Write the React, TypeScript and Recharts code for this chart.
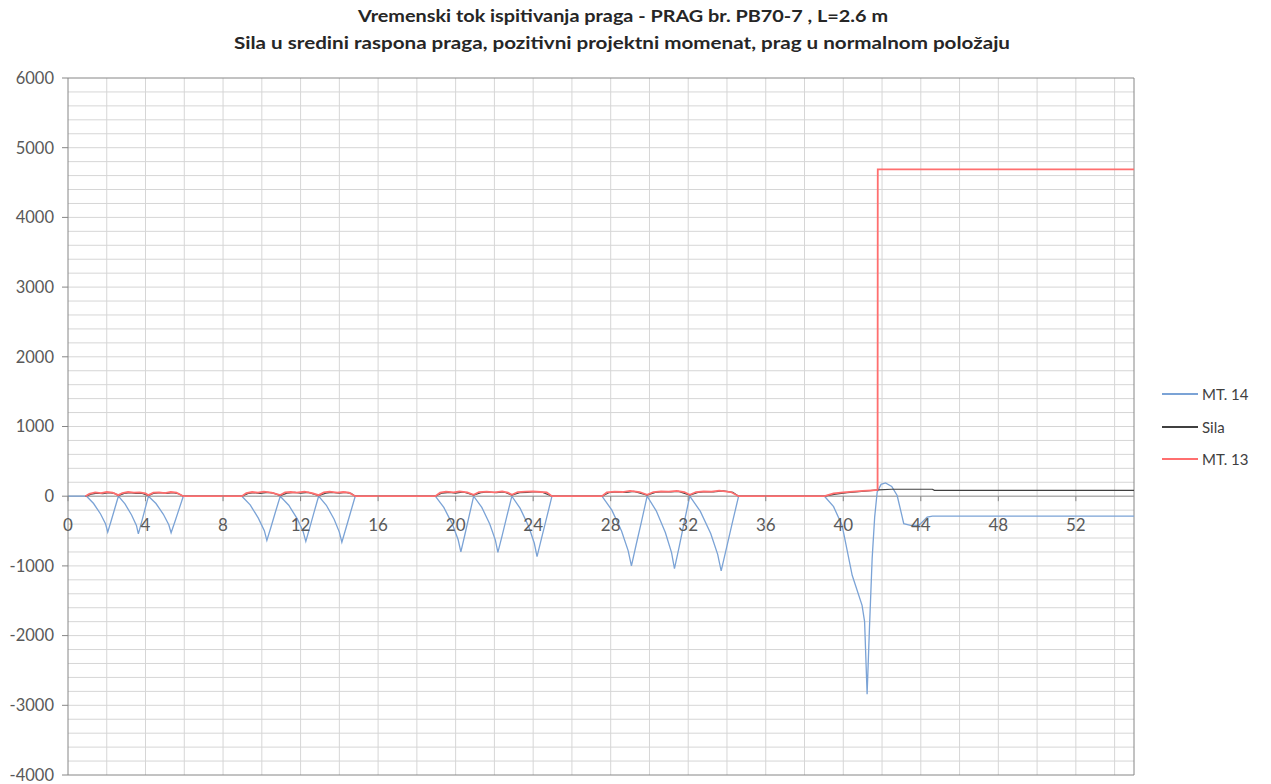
import React from "react";
import { LineChart, Line, XAxis, YAxis, ReferenceLine } from "recharts";

const TITLE_1 = "Vremenski tok ispitivanja praga - PRAG br. PB70-7 , L=2.6 m";
const TITLE_2 = "Sila u sredini raspona praga, pozitivni projektni momenat, prag u normalnom položaju";

const xTicks = [0, 4, 8, 12, 16, 20, 24, 28, 32, 36, 40, 44, 48, 52];
const yTicks = [-4000, -3000, -2000, -1000, 0, 1000, 2000, 3000, 4000, 5000, 6000];

// MT 14 - [time, value]
const mt14: number[][] = [
  [0, 0], [0.96, 0],
  [1.32, -105], [1.68, -255], [1.94, -400], [2.05, -515], [2.22, -360], [2.41, -180], [2.6, 0],
  [2.94, -110], [3.28, -270], [3.53, -420], [3.63, -540], [3.79, -380], [3.97, -190], [4.15, 0],
  [4.54, -105], [4.92, -260], [5.2, -410], [5.32, -525], [5.51, -370], [5.73, -185], [5.95, 0],
  [8.97, 0],
  [9.4, -125], [9.82, -315], [10.13, -495], [10.26, -633], [10.47, -445], [10.71, -220], [10.95, 0],
  [11.39, -130], [11.83, -325], [12.13, -505], [12.27, -648], [12.47, -455], [12.7, -225], [12.93, 0],
  [13.33, -130], [13.73, -330], [14.0, -515], [14.13, -660], [14.34, -460], [14.58, -230], [14.82, 0],
  [18.95, 0],
  [19.39, -160], [19.83, -400], [20.13, -625], [20.27, -800], [20.47, -560], [20.7, -280], [20.93, 0],
  [21.35, -160], [21.76, -400], [22.05, -630], [22.18, -805], [22.4, -565], [22.65, -280], [22.9, 0],
  [23.33, -175], [23.77, -435], [24.06, -675], [24.2, -867], [24.43, -605], [24.7, -305], [24.97, 0],
  [27.55, 0],
  [28.06, -200], [28.56, -500], [28.9, -780], [29.07, -1000], [29.31, -700], [29.6, -350], [29.88, 0],
  [30.35, -210], [30.82, -520], [31.14, -810], [31.29, -1040], [31.53, -730], [31.8, -365], [32.08, 0],
  [32.62, -215], [33.16, -535], [33.52, -835], [33.7, -1072], [33.97, -750], [34.28, -375], [34.6, 0],
  [39.03, 0], [39.5, -150], [39.94, -420], [40.46, -1135], [40.97, -1565], [41.1, -1800],
  [41.23, -2840], [41.35, -1900], [41.49, -895], [41.62, -300], [41.75, 60], [41.95, 170],
  [42.18, 190], [42.5, 140], [42.78, 10], [43.0, -250], [43.12, -395], [43.47, -420],
  [43.9, -420], [44.33, -300], [44.6, -285], [55, -285],
];

// Sila
const sila: number[][] = [
  [0.9, 0], [1.2, 30], [1.5, 45], [1.8, 35], [2.1, 50], [2.4, 40], [2.6, 10],
  [2.9, 40], [3.2, 50], [3.5, 40], [3.8, 45], [4.15, 10],
  [4.4, 40], [4.8, 50], [5.1, 40], [5.4, 50], [5.7, 35], [5.95, 0],
  [8.97, 0], [9.3, 40], [9.6, 50], [9.9, 40], [10.3, 55], [10.6, 45], [10.95, 10],
  [11.3, 45], [11.7, 55], [12.0, 45], [12.4, 55], [12.93, 10],
  [13.3, 45], [13.6, 55], [14.0, 45], [14.3, 55], [14.6, 40], [14.82, 0],
  [18.95, 0], [19.3, 45], [19.7, 55], [20.0, 45], [20.4, 60], [20.93, 15],
  [21.3, 50], [21.7, 60], [22.1, 50], [22.5, 60], [22.9, 15],
  [23.3, 50], [23.7, 55], [24.1, 65], [24.5, 55], [24.97, 0],
  [27.55, 0], [27.9, 50], [28.3, 60], [28.8, 55], [29.2, 70], [29.88, 15],
  [30.3, 55], [30.7, 65], [31.1, 60], [31.5, 70], [32.08, 15],
  [32.5, 55], [32.9, 65], [33.3, 60], [33.8, 75], [34.3, 55], [34.6, 0],
  [39.03, 0], [39.6, 30], [40.2, 50], [40.8, 65], [41.4, 80], [41.8, 90],
  [42.5, 100], [44.6, 100], [44.7, 85], [55, 85],
];

// MT 13
const mt13: number[][] = [
  [0.9, 0], [1.1, 35], [1.4, 55], [1.7, 45], [2.0, 60], [2.3, 50], [2.6, 15],
  [2.8, 45], [3.1, 60], [3.4, 50], [3.7, 55], [4.0, 40], [4.15, 15],
  [4.4, 50], [4.7, 55], [5.0, 45], [5.3, 60], [5.6, 50], [5.95, 0],
  [8.97, 0], [9.2, 45], [9.5, 60], [9.8, 50], [10.1, 65], [10.5, 50], [10.95, 15],
  [11.2, 55], [11.5, 60], [11.8, 50], [12.2, 65], [12.6, 45], [12.93, 15],
  [13.2, 55], [13.5, 65], [13.9, 50], [14.2, 60], [14.5, 50], [14.82, 0],
  [18.95, 0], [19.2, 50], [19.5, 65], [19.9, 55], [20.2, 70], [20.6, 55], [20.93, 20],
  [21.2, 60], [21.6, 65], [22.0, 55], [22.4, 70], [22.7, 50], [22.9, 20],
  [23.2, 60], [23.6, 65], [24.0, 70], [24.4, 60], [24.7, 55], [24.97, 0],
  [27.55, 0], [27.8, 55], [28.2, 65], [28.6, 60], [29.0, 75], [29.5, 60], [29.88, 20],
  [30.2, 60], [30.6, 70], [31.0, 65], [31.4, 75], [31.8, 60], [32.08, 20],
  [32.4, 60], [32.8, 70], [33.2, 65], [33.6, 80], [34.2, 60], [34.6, 0],
  [39.03, 0], [39.5, 40], [40.0, 55], [40.5, 65], [41.0, 75], [41.5, 85], [41.77, 90],
  [41.78, 4690], [55, 4690],
];

const toRows = (pts: number[][]) => pts.map(([t, v]) => ({ t, v }));

const series = [
  { name: "MT. 14", color: "#7ba3d6", width: 1.3, data: toRows(mt14) },
  { name: "Sila", color: "#404040", width: 1.2, data: toRows(sila) },
  { name: "MT. 13", color: "#ff6f6f", width: 1.8, data: toRows(mt13) },
];

// minor gridlines
const gridX: number[] = [];
for (let i = 2; i <= 54; i += 2) gridX.push(i);
const gridY: number[] = [];
for (let i = -3800; i <= 5800; i += 200) gridY.push(i);

const W = 1271;
const H = 784;
const TOP = 78;
const BOTTOM = 775;
const ZERO_Y = TOP + ((BOTTOM - TOP) * 6000) / 10000;
const FONT = "Lato, 'Liberation Sans', sans-serif";

const XTick = (props: any) => {
  const { x, payload } = props;
  return (
    <g>
      <line x1={x} x2={x} y1={ZERO_Y} y2={ZERO_Y + 5} stroke="#868686" />
      <text x={x} y={ZERO_Y + 35} textAnchor="middle" fill="#595959" fontSize={17} fontFamily={FONT}>
        {payload.value}
      </text>
    </g>
  );
};

const LegendBox = () => (
  <div
    style={{
      position: "absolute", left: 1162, top: 378, fontFamily: FONT, fontSize: 15, color: "#404040",
    }}
  >
    {series.map((s) => (
      <div key={s.name} style={{ display: "flex", alignItems: "center", height: 32.5 }}>
        <svg width={36} height={4} style={{ marginRight: 4 }}>
          <line x1={0} x2={36} y1={2} y2={2} stroke={s.color} strokeWidth={2} />
        </svg>
        <span>{s.name}</span>
      </div>
    ))}
  </div>
);

export default function App() {
  return (
    <div style={{ position: "absolute", left: 0, top: 0, width: W, height: H, background: "#fff" }}>
      <svg width={W} height={60} style={{ position: "absolute", left: 0, top: 0 }}>
        <text x={623} y={22} textAnchor="middle" fontFamily={FONT} fontWeight="bold" fontSize={17}
          fill="#262626" textLength={530} lengthAdjust="spacingAndGlyphs">
          {TITLE_1}
        </text>
        <text x={622} y={49} textAnchor="middle" fontFamily={FONT} fontWeight="bold" fontSize={17}
          fill="#262626" textLength={776} lengthAdjust="spacingAndGlyphs">
          {TITLE_2}
        </text>
      </svg>
      <div style={{ position: "absolute", left: 0, top: 0 }}>
        <LineChart width={W} height={H} margin={{ top: TOP, right: W - 1134, bottom: H - BOTTOM - 1, left: 8 }}>
          {gridY.map((v) => (
            <ReferenceLine key={"gy" + v} y={v} stroke="#d6d6d6" />
          ))}
          {gridX.map((v) => (
            <ReferenceLine key={"gx" + v} x={v} stroke="#d6d6d6" />
          ))}
          <XAxis
            type="number"
            dataKey="t"
            domain={[0, 55]}
            ticks={xTicks}
            interval={0}
            axisLine={false}
            tickLine={false}
            height={1}
            tick={<XTick />}
          />
          <YAxis
            type="number"
            domain={[-4000, 6000]}
            ticks={yTicks}
            interval={0}
            width={60}
            stroke="#868686"
            tickSize={6}
            tickMargin={8}
            tick={{ fill: "#595959", fontSize: 16.5, fontFamily: FONT }}
          />
          <ReferenceLine y={6000} stroke="#868686" />
          <ReferenceLine y={-4000} stroke="#868686" />
          <ReferenceLine x={55} stroke="#868686" />
          <ReferenceLine y={0} stroke="#9a9a9a" />
          {series.map((s) => (
            <Line
              key={s.name}
              data={s.data}
              dataKey="v"
              name={s.name}
              type="linear"
              stroke={s.color}
              strokeWidth={s.width}
              dot={false}
              activeDot={false}
              isAnimationActive={false}
            />
          ))}
        </LineChart>
      </div>
      <LegendBox />
    </div>
  );
}
